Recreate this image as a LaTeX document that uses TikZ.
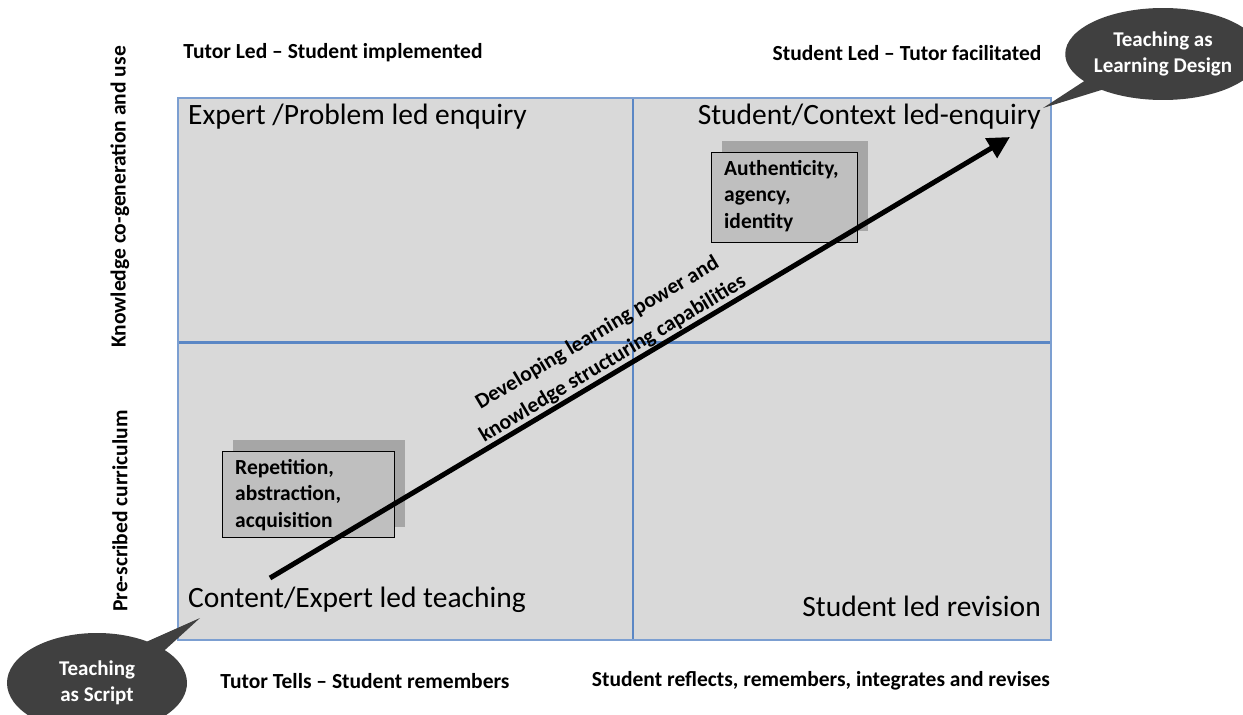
\documentclass[tikz,border=0pt]{standalone}
\usepackage{fontspec}
\setmainfont{Carlito}
\usetikzlibrary{shapes.callouts,arrows.meta}
\definecolor{quadfill}{HTML}{D9D9D9}
\definecolor{gridblue}{HTML}{5B87C5}
\definecolor{boxfront}{HTML}{BFBFBF}
\definecolor{boxshadow}{HTML}{A6A6A6}
\definecolor{bubble}{HTML}{404040}
\tikzset{
  axislabel/.style={font=\fontsize{21.5}{26}\selectfont\bfseries, inner sep=0pt},
  quadtitle/.style={font=\fontsize{29.5}{34}\selectfont, inner sep=0pt},
  boxtext/.style={font=\fontsize{21.5}{26.5}\selectfont\bfseries, align=left, inner sep=0pt},
  bubbletext/.style={ellipse callout, fill=bubble, text=white, font=\fontsize{21}{25.5}\selectfont\bfseries, align=center, inner sep=0pt},
}
\begin{document}
\begin{tikzpicture}[x=1pt,y=-1pt]
\useasboundingbox (0,0) rectangle (1243,715);
% quadrants
\fill[quadfill] (178,98) rectangle (1051,640);
\draw[gridblue, line width=3pt] (178,342) -- (1051,342);
\draw[gridblue, line width=1.6pt] (633,98) -- (633,640);
\draw[gridblue!80, line width=1.5pt] (178,98) rectangle (1051,640);
% quadrant titles
\node[quadtitle, anchor=west] (q1) at (188,117) {Expert /Problem led enquiry};
\node[quadtitle, anchor=east] (q2) at (1041,117) {Student/Context led-enquiry};
\node[quadtitle, anchor=west] (q3) at (188,600) {Content/Expert led teaching};
\node[quadtitle, anchor=east] (q4) at (1041,606) {Student led revision};
% axis labels
\node[axislabel] (tl) at (333,53) {Tutor Led – Student implemented};
\node[axislabel] (tr) at (907,53) {Student Led – Tutor facilitated};
\node[axislabel] (bl) at (365,681) {Tutor Tells – Student remembers};
\node[axislabel] (br) at (821,681) {Student reflects, remembers, integrates and revises};
\node[axislabel, rotate=90] (lu) at (120,197) {Knowledge co-generation and use};
\node[axislabel, rotate=90] (ll) at (120,511) {Pre-scribed curriculum};
% boxes
\fill[boxshadow] (233,440) rectangle (405,527);
\draw[fill=boxfront, line width=0.8pt] (222,451) rectangle (394,537);
\node[boxtext, anchor=north west] (b1) at (235,459) {Repetition,\\abstraction,\\acquisition};
\fill[boxshadow] (722,141) rectangle (868,231);
\draw[fill=boxfront, line width=0.8pt] (711,152) rectangle (857,242);
\node[boxtext, anchor=north west] (b2) at (724,160) {Authenticity,\\agency,\\identity};
% arrow
\coordinate (as) at (270,578);
\coordinate (ae) at (1010,137);
\draw[line width=5pt, -{Triangle[length=22pt,width=22pt]}] (as) -- (ae);
\path (as) -- (ae) node[pos=0.472, sloped, above=3pt, boxtext, align=center, font=\fontsize{21.5}{30}\selectfont\bfseries] (at) {Developing learning power and\\knowledge structuring capabilities};
% callouts
\node[bubbletext, minimum width=186pt, minimum height=92pt, callout absolute pointer={(1043,108)}] (c1) at (1163,54) {Teaching as\\Learning Design};
\node[bubbletext, minimum width=180pt, minimum height=100pt, callout absolute pointer={(200,618)}] (c2) at (97,683) {Teaching\\as Script};
\end{tikzpicture}
\end{document}
